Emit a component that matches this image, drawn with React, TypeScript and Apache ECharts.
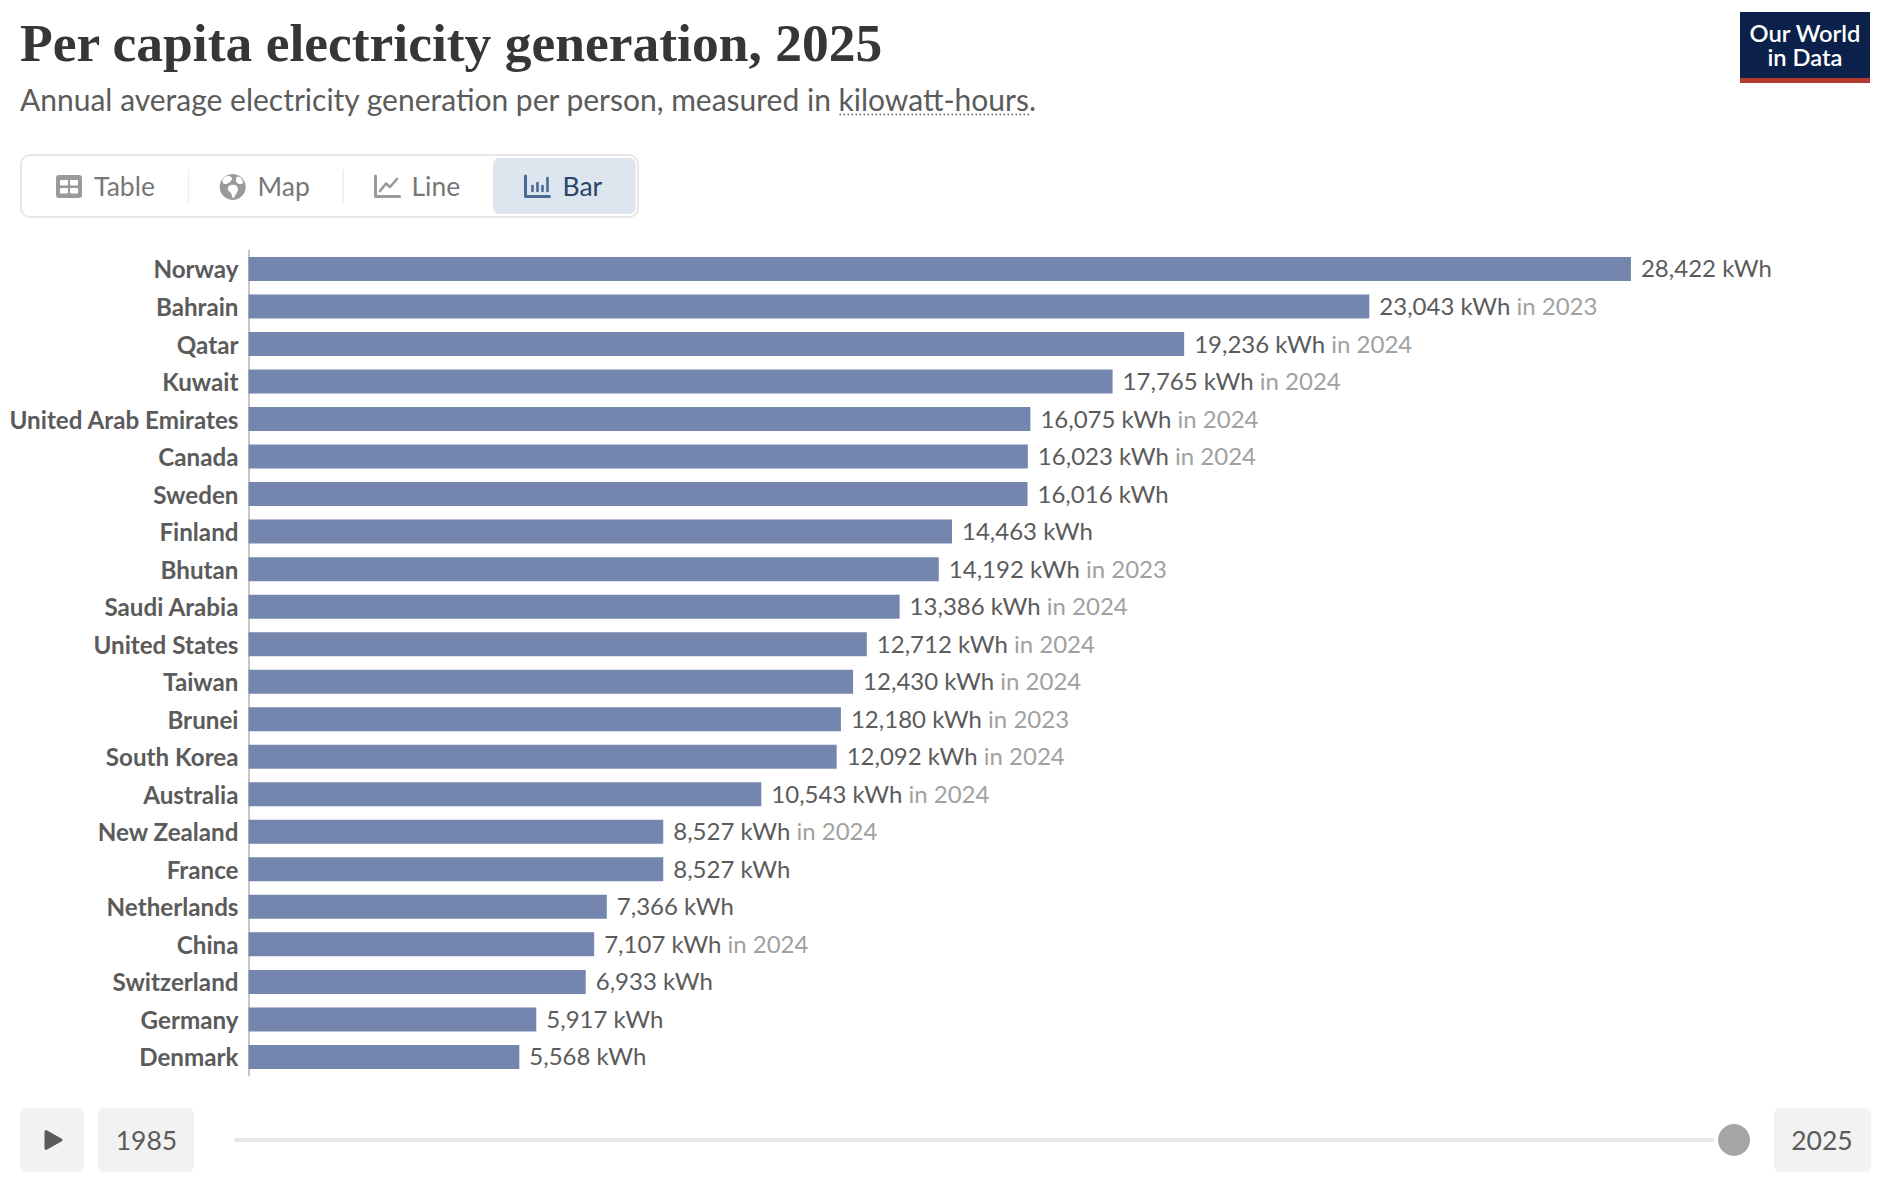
import React, { useEffect, useRef } from "react";
import * as echarts from "echarts";

const countries = ["Norway","Bahrain","Qatar","Kuwait","United Arab Emirates","Canada","Sweden","Finland","Bhutan","Saudi Arabia","United States","Taiwan","Brunei","South Korea","Australia","New Zealand","France","Netherlands","China","Switzerland","Germany","Denmark"];
const values = [28422,23043,19236,17765,16075,16023,16016,14463,14192,13386,12712,12430,12180,12092,10543,8527,8527,7366,7107,6933,5917,5568];
const dataYears = ["","2023","2024","2024","2024","2024","","","2023","2024","2024","2024","2023","2024","2024","2024","","","2024","","",""];
const TITLE = "Per capita electricity generation, 2025";
const SUBTITLE = "Annual average electricity generation per person, measured in kilowatt-hours.";

const LATO = "Lato, sans-serif";
const txt = (text: string, x: number, y: number, size: number, fill: string, extra: any = {}) => ({
  type: "text",
  silent: true,
  style: { text, x, y, fill, fontFamily: LATO, fontSize: size, fontWeight: 400, verticalAlign: "middle", align: "left", ...extra },
});
const box = (x: number, y: number, width: number, height: number, r: number, style: any) => ({
  type: "rect", silent: true, shape: { x, y, width, height, r }, style,
});
const seg = (x1: number, y1: number, x2: number, y2: number, stroke: string, lineWidth: number, extra: any = {}) => ({
  type: "line", silent: true, shape: { x1, y1, x2, y2 }, style: { stroke, lineWidth, lineCap: "round", ...extra },
});

const G = "#9a9a9a";
const B = "#4a6a94";
const graphics: any[] = [
  txt(TITLE, 20, 43, 53.5, "#363636", { fontFamily: "'Liberation Serif', serif", fontWeight: 700 }),
  txt(SUBTITLE, 20, 98.5, 30, "#5b5b5b"),
  seg(839.5, 114.5, 1029, 114.5, "#5b5b5b", 1.5, { lineDash: [1.5, 2.5], lineCap: "butt" }),

  box(21, 155, 617, 62, 9, { fill: "#fff", stroke: "#e7e7e7", lineWidth: 2 }),
  box(493, 158, 142.5, 56, 6, { fill: "#dde5ef" }),
  seg(188.5, 170, 188.5, 202, "#eeeeee", 1.5),
  seg(343, 170, 343, 202, "#eeeeee", 1.5),

  box(56, 175, 26, 23, 3, { fill: G }),
  box(60, 180, 8, 5.5, 1, { fill: "#fff" }),
  box(70, 180, 8, 5.5, 1, { fill: "#fff" }),
  box(60, 188, 8, 5.5, 1, { fill: "#fff" }),
  box(70, 188, 8, 5.5, 1, { fill: "#fff" }),
  txt("Table", 94, 186, 26.5, "#777777"),

  { type: "circle", silent: true, shape: { cx: 232.7, cy: 187, r: 13 }, style: { fill: G } },
  { type: "polygon", silent: true, shape: { points: [[223,179],[228,176],[232,178],[230,182],[226,184],[223,183]], smooth: 0.4 }, style: { fill: "#fff" } },
  { type: "polygon", silent: true, shape: { points: [[229,186],[235,185],[238,189],[236,194],[233,198],[231,193],[228,190]], smooth: 0.4 }, style: { fill: "#fff" } },
  { type: "polygon", silent: true, shape: { points: [[237,177],[241,178],[243,183],[239,184],[236,181]], smooth: 0.4 }, style: { fill: "#fff" } },
  txt("Map", 257.5, 186, 26.5, "#777777"),

  { type: "polyline", silent: true, shape: { points: [[375.5,176],[375.5,196.5],[399.5,196.5]] }, style: { stroke: G, lineWidth: 3, fill: "none", lineCap: "round", lineJoin: "round" } },
  { type: "polyline", silent: true, shape: { points: [[380,191],[386,183.5],[390,187],[397,179]] }, style: { stroke: G, lineWidth: 2.6, fill: "none", lineCap: "round", lineJoin: "round" } },
  txt("Line", 411.5, 186, 26.5, "#777777"),

  { type: "polyline", silent: true, shape: { points: [[525.5,176],[525.5,196.5],[549.5,196.5]] }, style: { stroke: B, lineWidth: 3, fill: "none", lineCap: "round", lineJoin: "round" } },
  seg(532.5, 186, 532.5, 191, B, 2.6),
  seg(537.5, 183, 537.5, 191, B, 2.6),
  seg(542.5, 186, 542.5, 191, B, 2.6),
  seg(547.5, 178, 547.5, 191, B, 2.6),
  txt("Bar", 562.5, 186, 26.5, "#2b4666"),

  box(1740, 12, 130, 71, 0, { fill: "#0b2149" }),
  box(1740, 78, 130, 5, 0, { fill: "#b13a2f" }),
  txt("Our World\nin Data", 1805, 44.5, 23.7, "#ffffff", { align: "center", fontWeight: 600, lineHeight: 24 }),

  box(20, 1108, 64, 64, 6, { fill: "#f2f2f2" }),
  { type: "polygon", silent: true, shape: { points: [[46,1131.5],[61,1140],[46,1148.5]] }, style: { fill: "#5b5b5b", stroke: "#5b5b5b", lineWidth: 3, lineJoin: "round" } },
  box(98, 1108, 96, 64, 6, { fill: "#f2f2f2" }),
  txt("1985", 146.5, 1140, 26.5, "#5b5b5b", { align: "center" }),
  box(234, 1138, 1480, 4, 2, { fill: "#e7e7e7" }),
  { type: "circle", silent: true, shape: { cx: 1734, cy: 1140, r: 16 }, style: { fill: "#a5a5a5" } },
  box(1774, 1108, 97, 64, 6, { fill: "#f2f2f2" }),
  txt("2025", 1822, 1140, 26.5, "#5b5b5b", { align: "center" }),
];

export default function App() {
  const ref = useRef<HTMLDivElement>(null);
  useEffect(() => {
    document.body.style.margin = "0";
    const chart = echarts.init(ref.current!, undefined, { renderer: "svg" });
    chart.setOption({
      animation: false,
      backgroundColor: "#ffffff",
      grid: { left: 248.5, top: 250.2, width: 1459.2, height: 825.5, containLabel: false },
      xAxis: { type: "value", min: 0, max: 30000, show: false },
      yAxis: {
        type: "category",
        inverse: true,
        data: countries,
        axisTick: { show: false },
        axisLine: { show: true, lineStyle: { color: "#b4b4b4", width: 1.5 } },
        axisLabel: { margin: 10, fontFamily: LATO, fontSize: 24.2, fontWeight: 700, color: "#5b5b5b" },
      },
      series: [{
        type: "bar",
        data: values,
        barWidth: 24,
        itemStyle: { color: "#7486ae" },
        label: {
          show: true,
          position: "right",
          distance: 10,
          offset: [0, -1],
          fontFamily: LATO,
          fontSize: 24,
          formatter: (p: any) => {
            const v = values[p.dataIndex].toLocaleString("en-US") + " kWh";
            const y = dataYears[p.dataIndex];
            return y ? `{v|${v}} {y|in ${y}}` : `{v|${v}}`;
          },
          rich: {
            v: { fontFamily: LATO, fontSize: 24, color: "#5b5b5b" },
            y: { fontFamily: LATO, fontSize: 24, color: "#a1a1a1" },
          },
        },
      }],
      graphic: { elements: graphics },
    });
    return () => chart.dispose();
  }, []);
  return <div ref={ref} style={{ width: 1896, height: 1193 }} />;
}
